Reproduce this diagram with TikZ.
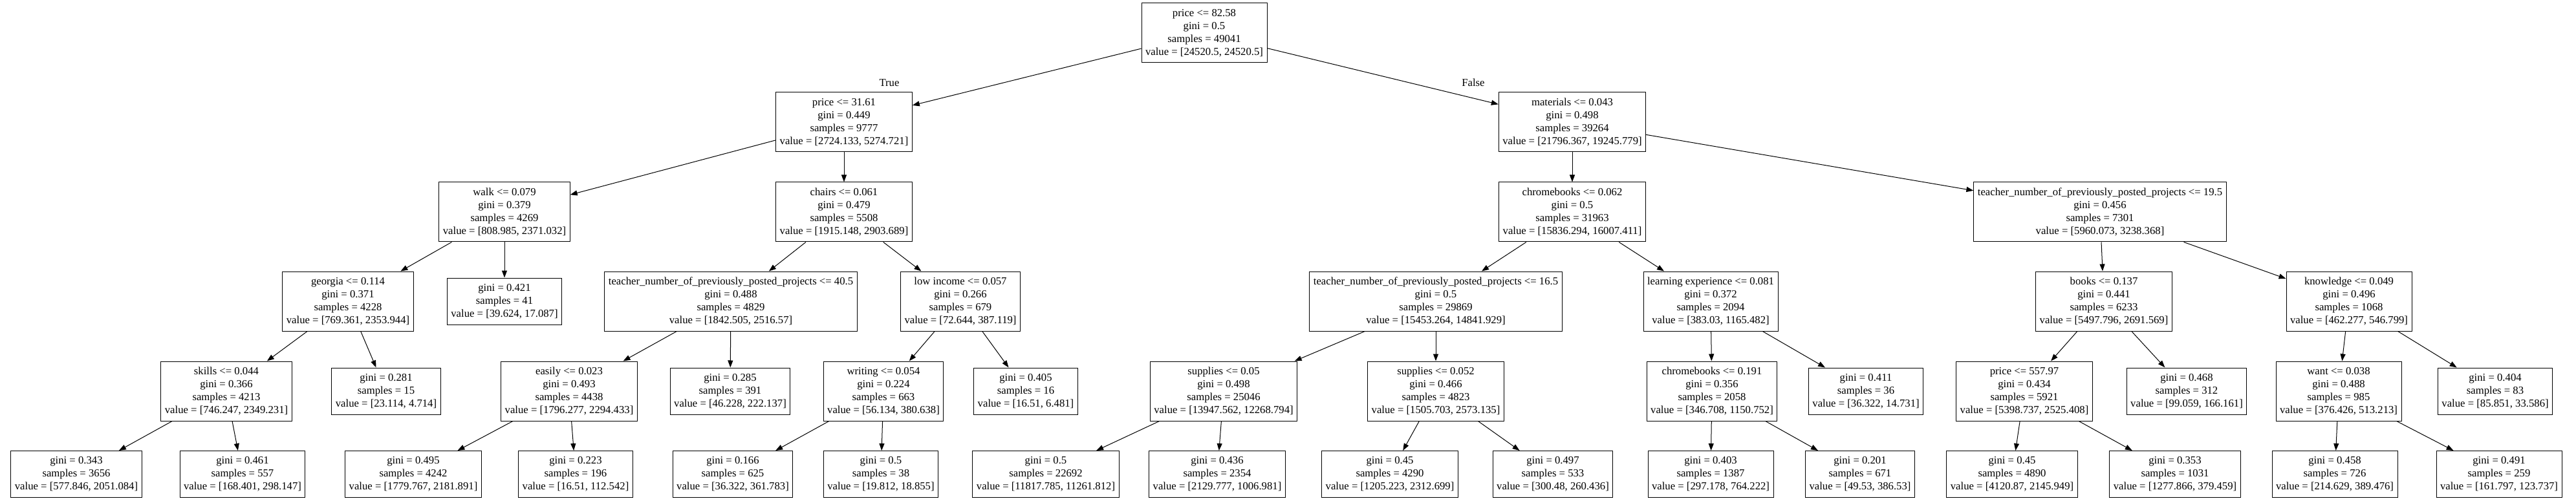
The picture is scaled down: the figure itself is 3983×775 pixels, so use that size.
\documentclass[tikz,border=0pt]{standalone}
\usepackage{fontspec}
\setmainfont{Liberation Serif}
\usetikzlibrary{arrows.meta,positioning}

\newcommand{\treefont}{\fontsize{16.7}{20}\selectfont}

\begin{document}
\begin{tikzpicture}[
  x=1pt, y=-1pt,
  split/.style={draw,rectangle,line width=1pt,align=center,font=\treefont,inner xsep=6pt,minimum height=92pt},
  leaf/.style={split,minimum height=72pt},
  branch/.style={line width=1pt,-{Triangle[length=11pt,width=8pt]}}
]
  \useasboundingbox (0,0) rectangle (3983,775);

  % rank 0
  \node[split] (n0) at (1862,51) {price <= 82.58\\gini = 0.5\\samples = 49041\\value = [24520.5, 24520.5]};

  % rank 1
  \node[split] (n1) at (1305,189) {price <= 31.61\\gini = 0.449\\samples = 9777\\value = [2724.133, 5274.721]};
  \node[split] (n2) at (2431,189) {materials <= 0.043\\gini = 0.498\\samples = 39264\\value = [21796.367, 19245.779]};

  % rank 2
  \node[split] (n3) at (780,328) {walk <= 0.079\\gini = 0.379\\samples = 4269\\value = [808.985, 2371.032]};
  \node[split] (n4) at (1305,328) {chairs <= 0.061\\gini = 0.479\\samples = 5508\\value = [1915.148, 2903.689]};
  \node[split] (n5) at (2431,328) {chromebooks <= 0.062\\gini = 0.5\\samples = 31963\\value = [15836.294, 16007.411]};
  \node[split] (n6) at (3247,328) {teacher\_number\_of\_previously\_posted\_projects <= 19.5\\gini = 0.456\\samples = 7301\\value = [5960.073, 3238.368]};

  % rank 3
  \node[split] (n7) at (538,466) {georgia <= 0.114\\gini = 0.371\\samples = 4228\\value = [769.361, 2353.944]};
  \node[leaf] (n8) at (780,466) {gini = 0.421\\samples = 41\\value = [39.624, 17.087]};
  \node[split] (n9) at (1130,466) {teacher\_number\_of\_previously\_posted\_projects <= 40.5\\gini = 0.488\\samples = 4829\\value = [1842.505, 2516.57]};
  \node[split] (n10) at (1485,466) {low income <= 0.057\\gini = 0.266\\samples = 679\\value = [72.644, 387.119]};
  \node[split] (n11) at (2220,466) {teacher\_number\_of\_previously\_posted\_projects <= 16.5\\gini = 0.5\\samples = 29869\\value = [15453.264, 14841.929]};
  \node[split] (n12) at (2645,466) {learning experience <= 0.081\\gini = 0.372\\samples = 2094\\value = [383.03, 1165.482]};
  \node[split] (n13) at (3253,466) {books <= 0.137\\gini = 0.441\\samples = 6233\\value = [5497.796, 2691.569]};
  \node[split] (n14) at (3632,466) {knowledge <= 0.049\\gini = 0.496\\samples = 1068\\value = [462.277, 546.799]};

  % rank 4
  \node[split] (n15) at (350,605) {skills <= 0.044\\gini = 0.366\\samples = 4213\\value = [746.247, 2349.231]};
  \node[leaf] (n16) at (597,605) {gini = 0.281\\samples = 15\\value = [23.114, 4.714]};
  \node[split] (n17) at (880,605) {easily <= 0.023\\gini = 0.493\\samples = 4438\\value = [1796.277, 2294.433]};
  \node[leaf] (n18) at (1129,605) {gini = 0.285\\samples = 391\\value = [46.228, 222.137]};
  \node[split] (n19) at (1366,605) {writing <= 0.054\\gini = 0.224\\samples = 663\\value = [56.134, 380.638]};
  \node[leaf] (n20) at (1586,605) {gini = 0.405\\samples = 16\\value = [16.51, 6.481]};
  \node[split] (n21) at (1892,605) {supplies <= 0.05\\gini = 0.498\\samples = 25046\\value = [13947.562, 12268.794]};
  \node[split] (n22) at (2220,605) {supplies <= 0.052\\gini = 0.466\\samples = 4823\\value = [1505.703, 2573.135]};
  \node[split] (n23) at (2647,605) {chromebooks <= 0.191\\gini = 0.356\\samples = 2058\\value = [346.708, 1150.752]};
  \node[leaf] (n24) at (2885,605) {gini = 0.411\\samples = 36\\value = [36.322, 14.731]};
  \node[split] (n25) at (3130,605) {price <= 557.97\\gini = 0.434\\samples = 5921\\value = [5398.737, 2525.408]};
  \node[leaf] (n26) at (3381,605) {gini = 0.468\\samples = 312\\value = [99.059, 166.161]};
  \node[split] (n27) at (3616,605) {want <= 0.038\\gini = 0.488\\samples = 985\\value = [376.426, 513.213]};
  \node[leaf] (n28) at (3858,605) {gini = 0.404\\samples = 83\\value = [85.851, 33.586]};

  % rank 5
  \node[leaf] (n29) at (118,733.5) {gini = 0.343\\samples = 3656\\value = [577.846, 2051.084]};
  \node[leaf] (n30) at (375,733.5) {gini = 0.461\\samples = 557\\value = [168.401, 298.147]};
  \node[leaf] (n31) at (639,733.5) {gini = 0.495\\samples = 4242\\value = [1779.767, 2181.891]};
  \node[leaf] (n32) at (890,733.5) {gini = 0.223\\samples = 196\\value = [16.51, 112.542]};
  \node[leaf] (n33) at (1133,733.5) {gini = 0.166\\samples = 625\\value = [36.322, 361.783]};
  \node[leaf] (n34) at (1362,733.5) {gini = 0.5\\samples = 38\\value = [19.812, 18.855]};
  \node[leaf] (n35) at (1617,733.5) {gini = 0.5\\samples = 22692\\value = [11817.785, 11261.812]};
  \node[leaf] (n36) at (1882,733.5) {gini = 0.436\\samples = 2354\\value = [2129.777, 1006.981]};
  \node[leaf] (n37) at (2149,733.5) {gini = 0.45\\samples = 4290\\value = [1205.223, 2312.699]};
  \node[leaf] (n38) at (2401,733.5) {gini = 0.497\\samples = 533\\value = [300.48, 260.436]};
  \node[leaf] (n39) at (2645,733.5) {gini = 0.403\\samples = 1387\\value = [297.178, 764.222]};
  \node[leaf] (n40) at (2876,733.5) {gini = 0.201\\samples = 671\\value = [49.53, 386.53]};
  \node[leaf] (n41) at (3111,733.5) {gini = 0.45\\samples = 4890\\value = [4120.87, 2145.949]};
  \node[leaf] (n42) at (3363,733.5) {gini = 0.353\\samples = 1031\\value = [1277.866, 379.459]};
  \node[leaf] (n43) at (3610,733.5) {gini = 0.458\\samples = 726\\value = [214.629, 389.476]};
  \node[leaf] (n44) at (3864,733.5) {gini = 0.491\\samples = 259\\value = [161.797, 123.737]};

  % branch labels
  \node[font=\treefont] (truelbl) at (1375,128) {True};
  \node[font=\treefont] (falselbl) at (2278,128) {False};

  % connectors
  \draw[branch] (n0) -- (n1);
  \draw[branch] (n0) -- (n2);
  \draw[branch] (n1) -- (n3);
  \draw[branch] (n1) -- (n4);
  \draw[branch] (n3) -- (n7);
  \draw[branch] (n3) -- (n8);
  \draw[branch] (n7) -- (n15);
  \draw[branch] (n7) -- (n16);
  \draw[branch] (n15) -- (n29);
  \draw[branch] (n15) -- (n30);
  \draw[branch] (n4) -- (n9);
  \draw[branch] (n4) -- (n10);
  \draw[branch] (n9) -- (n17);
  \draw[branch] (n9) -- (n18);
  \draw[branch] (n17) -- (n31);
  \draw[branch] (n17) -- (n32);
  \draw[branch] (n10) -- (n19);
  \draw[branch] (n10) -- (n20);
  \draw[branch] (n19) -- (n33);
  \draw[branch] (n19) -- (n34);
  \draw[branch] (n2) -- (n5);
  \draw[branch] (n2) -- (n6);
  \draw[branch] (n5) -- (n11);
  \draw[branch] (n5) -- (n12);
  \draw[branch] (n11) -- (n21);
  \draw[branch] (n11) -- (n22);
  \draw[branch] (n21) -- (n35);
  \draw[branch] (n21) -- (n36);
  \draw[branch] (n22) -- (n37);
  \draw[branch] (n22) -- (n38);
  \draw[branch] (n12) -- (n23);
  \draw[branch] (n12) -- (n24);
  \draw[branch] (n23) -- (n39);
  \draw[branch] (n23) -- (n40);
  \draw[branch] (n6) -- (n13);
  \draw[branch] (n6) -- (n14);
  \draw[branch] (n13) -- (n25);
  \draw[branch] (n13) -- (n26);
  \draw[branch] (n25) -- (n41);
  \draw[branch] (n25) -- (n42);
  \draw[branch] (n14) -- (n27);
  \draw[branch] (n14) -- (n28);
  \draw[branch] (n27) -- (n43);
  \draw[branch] (n27) -- (n44);
\end{tikzpicture}
\end{document}
